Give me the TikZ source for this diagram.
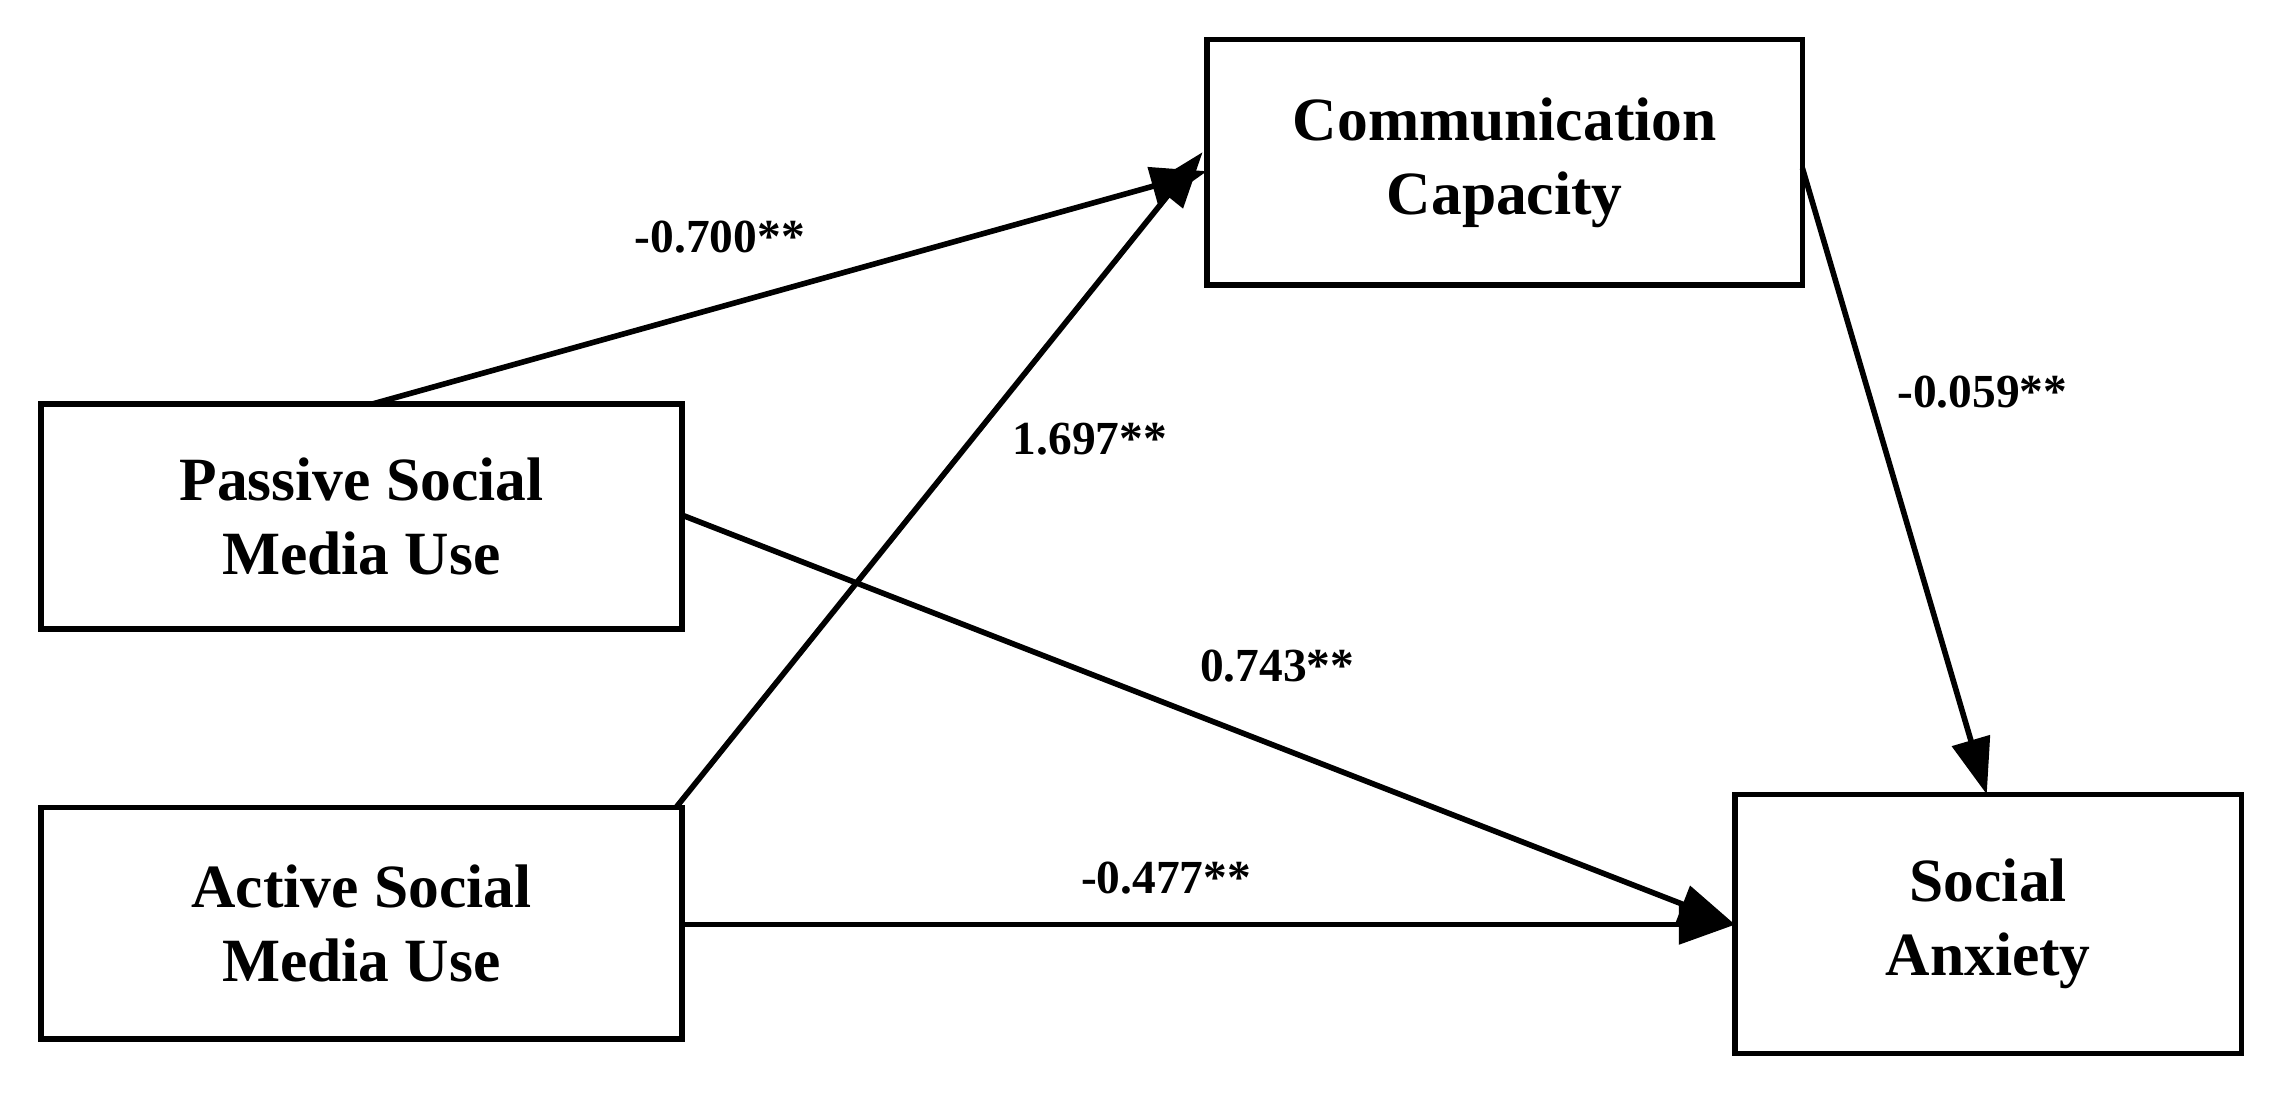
\documentclass[tikz,border=0pt]{standalone}
\usepackage{fontspec}
\setmainfont{Liberation Serif}
\usetikzlibrary{arrows.meta}
\begin{document}
\begin{tikzpicture}[x=0.01463cm,y=-0.01463cm,
  box/.style={draw,line width=1.6pt,fill=white,font=\fontsize{17.5}{21}\selectfont\bfseries,align=center,inner sep=0pt},
  conn/.style={line width=1.6pt,-{Triangle[length=16pt,width=11pt]}},
  lab/.style={font=\fontsize{13.5}{16}\selectfont\bfseries}]
\useasboundingbox (0,0) rectangle (1568,748);
\node[box,minimum width=407*0.01463cm,minimum height=168*0.01463cm] (cc) at (1028.5,111) {Communication\\Capacity};
\node[box,minimum width=438*0.01463cm,minimum height=154*0.01463cm] (ps) at (247,353) {Passive Social\\Media Use};
\node[box,minimum width=438*0.01463cm,minimum height=158*0.01463cm] (as) at (247,631) {Active Social\\Media Use};
\node[box,minimum width=346*0.01463cm,minimum height=177*0.01463cm] (sa) at (1359,631.5) {Social\\Anxiety};
\coordinate (p1) at (255,276);
\coordinate (cc1) at (825,117);
\coordinate (a1) at (462,552);
\coordinate (cc2) at (822,104);
\coordinate (p2) at (466,352);
\coordinate (sa1) at (1186,632);
\coordinate (a2) at (466,632);
\coordinate (cc3) at (1232,115);
\coordinate (sa2) at (1358,543);
\draw[conn] (p1) -- (cc1);
\draw[conn] (a1) -- (cc2);
\draw[conn] (p2) -- (sa1);
\draw[conn] (a2) -- (sa1);
\draw[conn] (cc3) -- (sa2);
\node[lab] (l1) at (492,162) {-0.700**};
\node[lab] (l2) at (745,300) {1.697**};
\node[lab] (l3) at (873,455) {0.743**};
\node[lab] (l4) at (797,600) {-0.477**};
\node[lab] (l5) at (1355,268) {-0.059**};
\end{tikzpicture}
\end{document}
